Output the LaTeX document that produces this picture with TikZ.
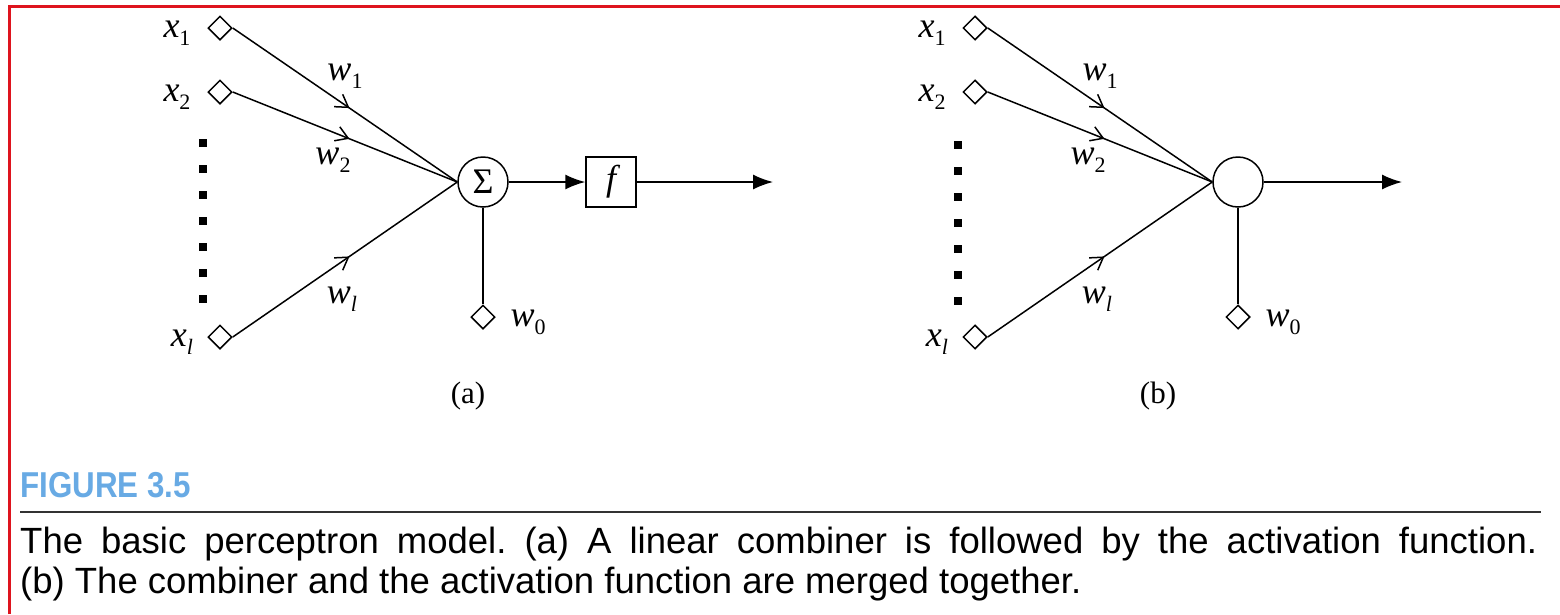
\documentclass[tikz,border=0pt]{standalone}
\usepackage{fontspec}
\setmainfont{Liberation Serif}
\newfontfamily\capfont{Liberation Sans}
\newfontfamily\headfont{Liberation Sans}[FakeStretch=0.87]
\usetikzlibrary{shapes.geometric,arrows.meta,decorations.markings}

\definecolor{framered}{RGB}{222,20,30}
\definecolor{headblue}{RGB}{104,170,228}

% italic symbol with an upright or italic index
\newcommand\lab[2]{\textit{#1}\raisebox{-8pt}{\fontsize{22}{22}\selectfont #2}}

\tikzset{
  x=1pt, y=-1pt,
  wire/.style={line width=1.5pt},
  port/.style={diamond, draw, line width=1.5pt, minimum size=24pt, inner sep=0pt},
  sumnode/.style={circle, draw, line width=1.5pt, minimum size=50pt, inner sep=0pt},
  actbox/.style={rectangle, draw, line width=1.5pt, minimum size=50pt, inner sep=0pt},
  sym/.style={inner sep=0pt, font=\fontsize{36}{36}\selectfont},
  weighted/.style={wire, postaction={decorate},
    decoration={markings, mark=at position 0.52 with
      {\arrow{Straight Barb[length=12pt,width=15pt,line width=1.5pt]}}}},
  flow/.style={wire, -{Latex[length=20pt,width=15pt]}},
  ellipsis/.style={line width=7.5pt, dash pattern=on 8pt off 18pt},
  panel/.style={inner sep=0pt, font=\fontsize{31}{31}\selectfont},
}

\begin{document}
\frenchspacing
\begin{tikzpicture}
\useasboundingbox (0,0) rectangle (1560,614);

% frame
\draw[framered, line width=2.5pt] (9.5,614) -- (9.5,6.5) -- (1560,6.5);

% ---------------- (a) combiner followed by activation ----------------
\node[port] (ax1) at (220,28) {};
\node[port] (ax2) at (220,92) {};
\node[port] (axl) at (220,337) {};
\node[sumnode] (asum) at (483,182) {\fontsize{36}{36}\selectfont Σ};
\node[port] (aw0) at (483,317) {};
\node[actbox] (af) at (611,182) {\fontsize{36}{36}\selectfont\itshape f};
\coordinate (aout) at (773,182);
\coordinate (adt) at (203,139);
\coordinate (adb) at (203,313);

\node[sym] at (177,33) {\lab{x}{1}};
\node[sym] at (177,97) {\lab{x}{2}};
\node[sym] at (182,342) {\lab{x}{\textit{l}}};
\node[sym] at (345,76) {\lab{w}{1}};
\node[sym] at (333,160) {\lab{w}{2}};
\node[sym] at (342,299) {\lab{w}{\textit{l}}};
\node[sym] at (528,322) {\lab{w}{0}};

\draw[weighted] (ax1.east) -- (asum.west);
\draw[weighted] (ax2.east) -- (asum.west);
\draw[weighted] (axl.east) -- (asum.west);
\draw[wire] (asum) -- (aw0);
\draw[flow] (asum) -- (af);
\draw[flow] (af) -- (aout);
\draw[ellipsis] (adt) -- (adb);

\node[panel] (acap) at (468,396) {(a)};

% ---------------- (b) merged neuron ----------------
\node[port] (bx1) at (975,28) {};
\node[port] (bx2) at (975,92) {};
\node[port] (bxl) at (975,337) {};
\node[sumnode] (bsum) at (1238,182) {};
\node[port] (bw0) at (1238,317) {};
\coordinate (bout) at (1402,182);
\coordinate (bdt) at (958,141);
\coordinate (bdb) at (958,313);

\node[sym] at (932,33) {\lab{x}{1}};
\node[sym] at (932,97) {\lab{x}{2}};
\node[sym] at (937,342) {\lab{x}{\textit{l}}};
\node[sym] at (1100,76) {\lab{w}{1}};
\node[sym] at (1088,160) {\lab{w}{2}};
\node[sym] at (1097,299) {\lab{w}{\textit{l}}};
\node[sym] at (1283,322) {\lab{w}{0}};

\draw[weighted] (bx1.east) -- (bsum.west);
\draw[weighted] (bx2.east) -- (bsum.west);
\draw[weighted] (bxl.east) -- (bsum.west);
\draw[wire] (bsum) -- (bw0);
\draw[flow] (bsum) -- (bout);
\draw[ellipsis] (bdt) -- (bdb);

\node[panel] (bcap) at (1158,396) {(b)};

% ---------------- caption ----------------
\node[anchor=base west, inner sep=0pt, text=headblue,
      font=\headfont\bfseries\fontsize{36}{36}\selectfont] (fig) at (20,497) {FIGURE 3.5};
\draw[line width=1.8pt, black!80] (20,512) -- (1541,512);
\node[anchor=base west, inner sep=0pt, text width=1517pt, align=justify,
      font=\capfont\fontsize{36.5}{40}\selectfont] (cap) at (20,553)
  {The basic perceptron model. (a) A linear combiner is followed by the activation function.\linebreak
   (b) The combiner and the activation function are merged together.};
\end{tikzpicture}
\end{document}
